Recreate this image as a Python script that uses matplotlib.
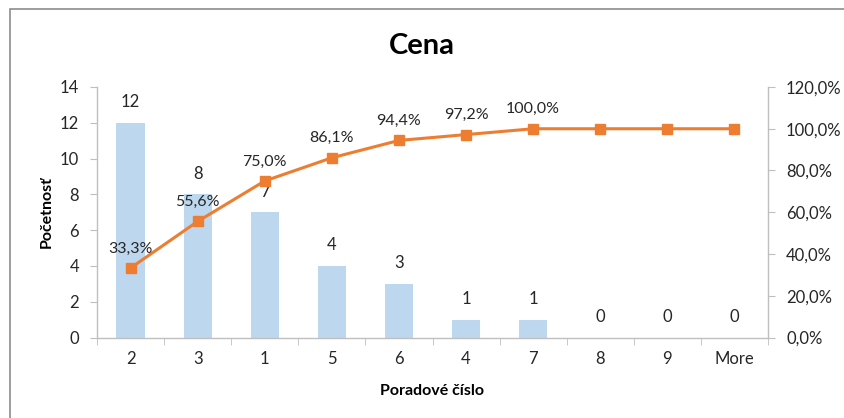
import matplotlib
matplotlib.use("Agg")
import matplotlib.pyplot as plt
from matplotlib.patches import Rectangle
from matplotlib.ticker import FuncFormatter, FixedLocator

categories = ["2", "3", "1", "5", "6", "4", "7", "8", "9", "More"]
counts = [12, 8, 7, 4, 3, 1, 1, 0, 0, 0]
cum_pct = [33.3, 55.6, 75.0, 86.1, 94.4, 97.2, 100.0, 100.0, 100.0, 100.0]
pct_labeled = 7  # only first 7 points have labels

plt.rcParams['font.family'] = ['Lato', 'DejaVu Sans']

W, H = 844, 418
fig = plt.figure(figsize=(W / 100, H / 100), dpi=100)

# chart frame
fig.patches.append(Rectangle((9.5 / W, -0.1), 2, 1 - 9.5 / H + 0.1,
                             transform=fig.transFigure, fill=False,
                             edgecolor='#8c8c8c', linewidth=1.2))

left, right, bottom, top = 97, 768, 337.5, 87
ax = fig.add_axes([left / W, 1 - bottom / H, (right - left) / W, (bottom - top) / H])
ax2 = ax.twinx()

x = list(range(len(categories)))
ax.bar(x, counts, width=0.42, color='#BDD7EE', zorder=1)
ax.set_xlim(-0.5, len(categories) - 0.5)
ax.set_ylim(0, 14)
ax.set_yticks(range(0, 15, 2))

ax2.plot(x, cum_pct, color='#ED7D31', linewidth=2.2, marker='s', markersize=6.5,
         zorder=3)
ax2.set_ylim(0, 120)
ax2.set_yticks(range(0, 121, 20))
ax2.yaxis.set_major_formatter(FuncFormatter(lambda v, p: f"{v:.1f}%".replace('.', ',')))

for a in (ax, ax2):
    a.spines['top'].set_visible(False)
    for s in ('left', 'right', 'bottom'):
        a.spines[s].set_color('#bfbfbf')
        a.spines[s].set_linewidth(1)

ax.spines['right'].set_visible(False)
ax2.spines['left'].set_visible(False)
ax2.spines['bottom'].set_visible(False)

tc = '#262626'
ax.set_xticks(x)
ax.set_xticklabels(categories)
ax.xaxis.set_minor_locator(FixedLocator([i - 0.5 for i in range(len(categories) + 1)]))
ax.tick_params(axis='x', which='major', length=0, pad=10, labelsize=12, colors=tc)
ax.tick_params(axis='x', which='minor', length=5, color='#bfbfbf', direction='out')
ax.tick_params(axis='y', length=5, color='#bfbfbf', labelsize=12, labelcolor=tc, pad=8)
ax2.tick_params(axis='y', length=5, color='#bfbfbf', labelsize=12, labelcolor=tc, pad=8)

ax.set_ylabel('Početnosť', fontsize=11.5, fontweight='bold', labelpad=4, color='black')
ax.set_xlabel('Poradové číslo', fontsize=11.5, fontweight='bold', labelpad=12, color='black')
fig.text(0.5, 1 - 46 / H, 'Cena', ha='center', va='center', fontsize=21, fontweight='bold')

for i, c in enumerate(counts):
    ax.annotate(str(c), (i, c), xytext=(0, 9), textcoords='offset points',
                ha='center', va='bottom', fontsize=12, color=tc)
for i in range(pct_labeled):
    ax2.annotate(f"{cum_pct[i]:.1f}%".replace('.', ','), (i, cum_pct[i]),
                 xytext=(0, 9), textcoords='offset points',
                 ha='center', va='bottom', fontsize=11.5, color=tc)

fig.savefig('out.png', dpi=100)
